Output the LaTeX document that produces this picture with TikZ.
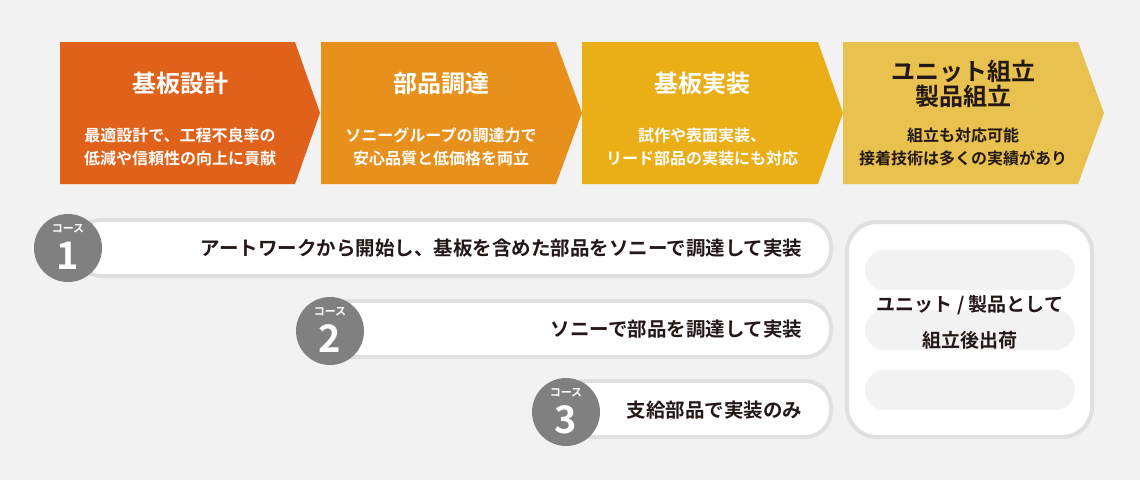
\documentclass[tikz,border=0pt]{standalone}
\usepackage{fontspec}
\setmainfont{Noto Sans CJK JP}[BoldFont={Noto Sans CJK JP Bold}]
\definecolor{bg}{HTML}{F2F2F2}
\definecolor{c1}{HTML}{E0611A}
\definecolor{c2}{HTML}{E8901C}
\definecolor{c3}{HTML}{EAAE17}
\definecolor{c4}{HTML}{E9C14E}
\definecolor{tx}{HTML}{231815}
\definecolor{bd}{HTML}{E0E0E0}
\definecolor{cg}{HTML}{808080}
\begin{document}
\begin{tikzpicture}[x=1pt,y=-1pt,
  pill/.style={draw=bd,line width=4pt,fill=white,rounded corners=26pt},
  circ/.style={circle,fill=cg,minimum size=68pt,inner sep=0pt},
  tit/.style={font=\bfseries\fontsize{24}{25}\selectfont,align=center},
  sub/.style={font=\bfseries\fontsize{16}{23}\selectfont,align=center},
  ctx/.style={font=\bfseries\fontsize{19.5}{22}\selectfont,text=tx,anchor=east}]
\fill[bg] (0,0) rectangle (1140,480);
\useasboundingbox (0,0) rectangle (1140,480);
\fill[c1] (60,42) -- (295,42) -- (320,113) -- (295,184) -- (60,184) -- cycle;
\fill[c2] (321,42) -- (556,42) -- (582,113) -- (556,184) -- (321,184) -- cycle;
\fill[c3] (582,42) -- (818,42) -- (843,113) -- (818,184) -- (582,184) -- cycle;
\fill[c4] (843,42) -- (1078,42) -- (1104,113) -- (1078,184) -- (843,184) -- cycle;
\node[tit,text=white] (t1) at (180,83) {基板設計};
\node[sub,text=white] (s1) at (180,147) {最適設計で、工程不良率の\\低減や信頼性の向上に貢献};
\node[tit,text=white] (t2) at (441,83) {部品調達};
\node[sub,text=white] (s2) at (441,147) {ソニーグループの調達力で\\安心品質と低価格を両立};
\node[tit,text=white] (t3) at (702,83) {基板実装};
\node[sub,text=white] (s3) at (702,147) {試作や表面実装、\\リード部品の実装にも対応};
\node[tit,text=tx] (t4) at (963,84) {ユニット組立\\製品組立};
\node[sub,text=tx] (s4) at (963,147) {組立も対応可能\\接着技術は多くの実績があり};
% course pills
\draw[pill] (75,220) rectangle (831,276);
\draw[pill] (320,301) rectangle (831,357);
\draw[pill] (560,381) rectangle (831,437);
\node[ctx] (p1) at (806,248) {アートワークから開始し、基板を含めた部品をソニーで調達して実装};
\node[ctx] (p2) at (806,329) {ソニーで部品を調達して実装};
\node[ctx] (p3) at (806,410) {支給部品で実装のみ};
\foreach \n/\x/\y in {1/68/248,2/330/331,3/566/412}{
  \node[circ] (k\n) at (\x,\y) {};
  \node[text=white,font=\bfseries\fontsize{11}{12}\selectfont] (kl\n) at (\x,\y-19) {コース};
  \node[text=white,font=\bfseries\fontsize{38}{38}\selectfont] (kn\n) at (\x,\y+8) {\n};
}
% right box
\draw[draw=bd,line width=4pt,fill=white,rounded corners=30pt] (847,222) rectangle (1092,437);
\fill[bg,rounded corners=20pt] (865,250) rectangle (1075,290);
\fill[bg,rounded corners=20pt] (865,310) rectangle (1075,350);
\fill[bg,rounded corners=20pt] (865,370) rectangle (1075,410);
\node[font=\bfseries\fontsize{19}{36}\selectfont,text=tx,align=center] (rb) at (970,322) {ユニット / 製品として\\組立後出荷};
\end{tikzpicture}
\end{document}
